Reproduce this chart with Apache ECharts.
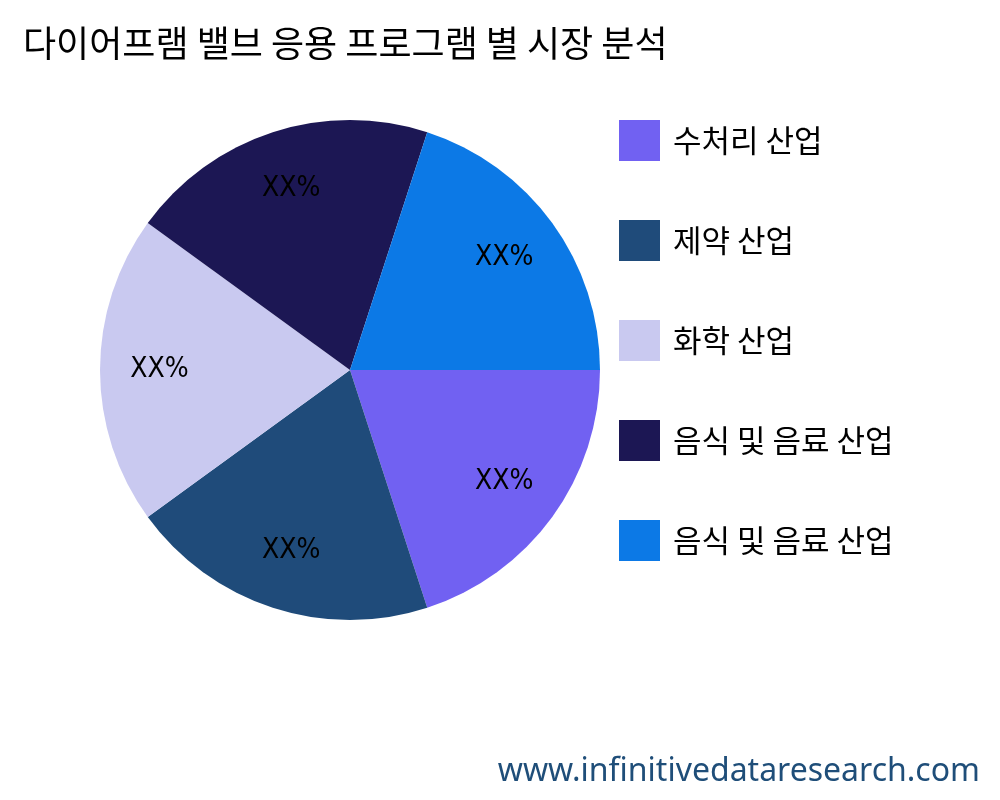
<!DOCTYPE html><html><head><meta charset="utf-8"><script src="https://cdn.jsdelivr.net/npm/echarts@6/dist/echarts.min.js"></script></head><body style="margin:0"><div id="c" style="width:1000px;height:800px"></div><script>
const categories=["수처리 산업","제약 산업","화학 산업","음식 및 음료 산업","음식 및 음료 산업\u200b"];
const values=[20,20,20,20,20];
const labels=["XX%","XX%","XX%","XX%","XX%"];
const colors=["#7161f2","#1f4b7a","#c9c9f0","#1c1754","#0c79e6"];
const data=categories.map((n,i)=>({name:n,value:values[i],itemStyle:{color:colors[i]}}));
const font="'Noto Sans CJK KR','Noto Sans',sans-serif";
const chart=echarts.init(document.getElementById('c'));
chart.setOption({
 animation:false,
 title:{text:"다이어프램 밸브 응용 프로그램 별 시장 분석",left:18,top:20,textStyle:{fontFamily:font,fontSize:36,fontWeight:'normal',color:'#000'}},
 graphic:[{type:'text',right:20,bottom:12,style:{text:'www.infinitivedataresearch.com',font:"32px 'Noto Sans',sans-serif",fill:'#1f4e79'}}],
 legend:{orient:'vertical',left:614,top:115,itemWidth:41,itemHeight:41,itemGap:59,icon:'rect',
  textStyle:{fontFamily:font,fontSize:31,color:'#000',padding:[0,0,0,8]},data:categories},
 series:[
  {type:'pie',center:[350,370],radius:[0,250],startAngle:0,clockwise:true,label:{show:false},labelLine:{show:false},data:data},
  {type:'pie',center:[350,370],radius:[125,250],startAngle:0,clockwise:true,silent:true,
   itemStyle:{color:'rgba(0,0,0,0)'},labelLine:{show:false},
   label:{show:true,position:'inner',fontFamily:"'DejaVu Sans Condensed','Noto Sans',sans-serif",fontSize:28,color:'#000',formatter:p=>labels[p.dataIndex]},
   data:categories.map((n,i)=>({name:n,value:values[i],itemStyle:{color:'rgba(0,0,0,0)'}}))}
 ]
});
</script></body></html>
